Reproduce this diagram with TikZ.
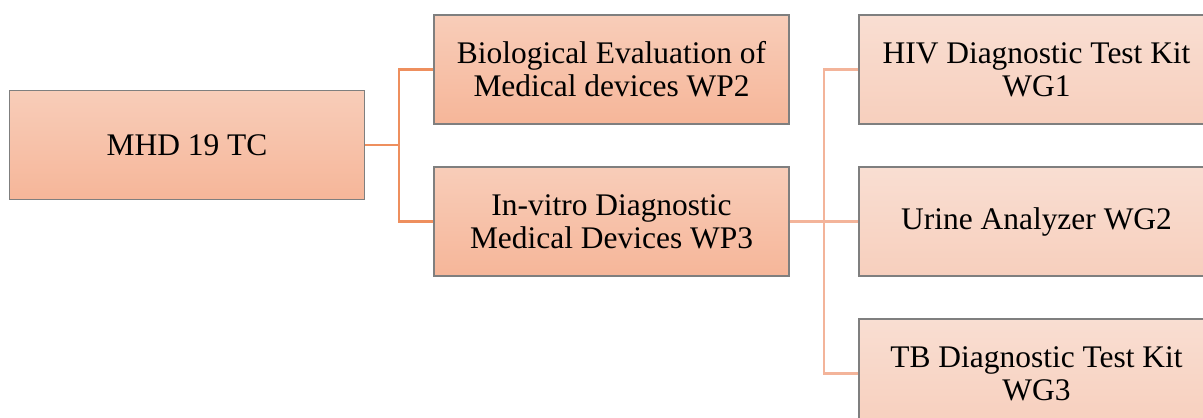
\documentclass[tikz,border=0pt]{standalone}
\usepackage{fontspec}
\setmainfont{Liberation Serif}
\definecolor{boxline}{HTML}{7F7F7F}
\definecolor{darktop}{HTML}{F8CDB9}
\definecolor{darkbot}{HTML}{F6B699}
\definecolor{lighttop}{HTML}{F9DED2}
\definecolor{lightbot}{HTML}{F7CFBD}
\definecolor{linkdark}{HTML}{EE8F5E}
\definecolor{linklight}{HTML}{F3B49A}
\tikzset{
	box/.style={draw=boxline, line width=0.7pt, minimum width=7.1cm, minimum height=2.18cm,
		align=center, font=\fontsize{17.9}{18.8}\selectfont, inner sep=0pt},
	tcbox/.style={box, top color=darktop, bottom color=darkbot},
	wgbox/.style={box, top color=lighttop, bottom color=lightbot},
	linkA/.style={draw=linkdark, line width=1.5pt},
	linkB/.style={draw=linklight, line width=1.5pt}
}
\begin{document}
\begin{tikzpicture}[x=0.02cm, y=-0.02cm]
	\useasboundingbox (0,0) rectangle (1203,418);
	\node[tcbox] (tc) at (187,145) {MHD 19 TC};
	\node[tcbox] (wp2) at (611.5,69.5) {Biological Evaluation of\\Medical devices WP2};
	\node[tcbox] (wp3) at (611.5,221.5) {In-vitro Diagnostic\\Medical Devices WP3};
	\node[wgbox] (wg1) at (1036.5,69.5) {HIV Diagnostic Test Kit\\WG1};
	\node[wgbox] (wg2) at (1036.5,221.5) {Urine Analyzer WG2};
	\node[wgbox] (wg3) at (1036.5,373.5) {TB Diagnostic Test Kit\\WG3};
	\coordinate (j1) at (399,145);
	\coordinate (j2) at (824,221.5);
	\draw[linkA] (tc.east) -- (j1) |- (wp2.west);
	\draw[linkA] (j1) |- (wp3.west);
	\draw[linkB] (wp3.east) -- (j2) |- (wg1.west);
	\draw[linkB] (j2) |- (wg3.west);
	\draw[linkB] (j2) -- (wg2.west);
\end{tikzpicture}
\end{document}
